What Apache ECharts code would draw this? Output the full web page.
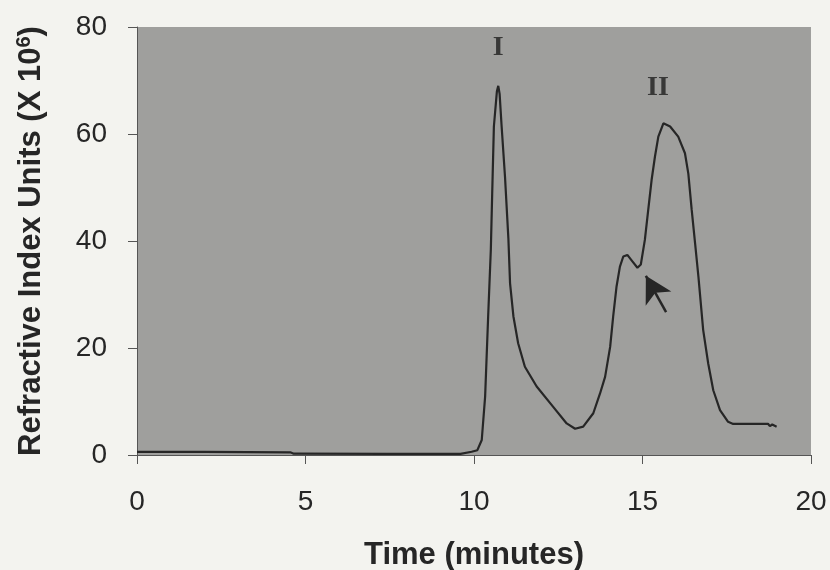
<!DOCTYPE html>
<html>
<head>
<meta charset="utf-8">
<script src="https://cdn.jsdelivr.net/npm/echarts@6/dist/echarts.min.js"></script>
<style>
  html, body { margin: 0; padding: 0; background: #f3f3ef; }
  #chart { width: 830px; height: 570px; }
</style>
</head>
<body>
<div id="chart"></div>
<script>
// chromatogram trace: [time (min), RI units x 10^6]
const timeMin = [
  0, 0.05, 0.15, 2.0, 4.55, 4.65, 7.4, 9.6, 9.93, 10.1, 10.23, 10.33, 10.42, 10.5,
  10.54, 10.59, 10.68, 10.72, 10.76, 10.82, 10.92, 11.02, 11.07, 11.17, 11.31, 11.51,
  11.86, 12.35, 12.75, 13.0, 13.05, 13.24, 13.54, 13.74, 13.89, 14.04, 14.13, 14.23,
  14.33, 14.43, 14.55, 14.7, 14.85, 14.95, 15.07, 15.17, 15.27, 15.37, 15.47, 15.62,
  15.82, 16.06, 16.26, 16.36, 16.46, 16.56, 16.66, 16.8, 16.95, 17.1, 17.3, 17.54,
  17.69, 18.2, 18.73, 18.78, 18.85, 18.98
]
const riUnits = [
  0.6, 0.9, 0.6, 0.6, 0.5, 0.25, 0.2, 0.2, 0.6, 0.9, 2.8, 10.9, 25.9, 38.5,
  48.9, 61.4, 68.0, 69.0, 67.5, 61.4, 52.0, 40.5, 32.1, 25.9, 20.9, 16.5,
  12.8, 9.0, 5.9, 4.9, 4.9, 5.3, 7.8, 11.5, 14.6, 20.2, 25.9, 31.5,
  35.2, 37.1, 37.4, 36.2, 35.0, 35.6, 40.2, 45.8, 51.4, 55.8, 59.5, 62.0,
  61.4, 59.5, 56.4, 52.6, 45.8, 39.6, 33.3, 23.4, 17.1, 12.1, 8.4, 6.2,
  5.8, 5.8, 5.8, 5.4, 5.7, 5.3
]

// peak names
const peakNames = ['I', 'II']
const peakPos = [[10.72, 76.1], [15.46, 68.6]]

// arrow marking the shoulder: tail -> tip
const arrowTail = [15.7, 26.7]
const arrowTip = [15.1, 33.5]

const xTicks = [0, 5, 10, 15, 20]
const yTicks = [0, 20, 40, 60, 80]

const font = "'Liberation Sans', Arial, sans-serif"
const ink = '#262626'

const chart = echarts.init(document.getElementById('chart'))

chart.setOption({
  animation: false,
  backgroundColor: '#f3f3ef',
  textStyle: { fontFamily: font },
  grid: {
    left: 137,
    right: 19,
    top: 27,
    bottom: 115,
    outerBoundsMode: 'none',
    show: true,
    backgroundColor: '#9f9f9d',
    borderWidth: 0,
  },
  xAxis: {
    type: 'value',
    min: xTicks[0],
    max: xTicks[xTicks.length - 1],
    interval: 5,
    name: 'Time (minutes)',
    nameLocation: 'middle',
    nameGap: 85,
    nameTextStyle: { color: ink, fontSize: 31, fontWeight: 'bold', fontFamily: font },
    axisLine: { show: true, lineStyle: { color: '#555', width: 1 } },
    axisTick: { show: true, length: 9, lineStyle: { color: '#555' } },
    axisLabel: { color: ink, fontSize: 28, margin: 33 },
    splitLine: { show: false },
  },
  yAxis: {
    type: 'value',
    min: yTicks[0],
    max: yTicks[yTicks.length - 1],
    interval: 20,
    name: 'Refractive Index Units (X 10{sup|6})',
    nameLocation: 'middle',
    nameGap: 89,
    nameRotate: 90,
    nameTextStyle: {
      color: ink,
      fontSize: 31,
      fontWeight: 'bold',
      fontFamily: font,
      rich: {
        sup: { fontSize: 20, fontWeight: 'bold', color: ink, fontFamily: font, padding: [0, 0, 14, 0] },
      },
    },
    axisLine: { show: true, lineStyle: { color: '#555', width: 1 } },
    axisTick: { show: true, length: 9, lineStyle: { color: '#555' } },
    axisLabel: { color: ink, fontSize: 28, margin: 30 },
    splitLine: { show: false },
  },
  series: [
    {
      name: 'RI',
      type: 'line',
      data: timeMin.map((t, i) => [t, riUnits[i]]),
      showSymbol: false,
      smooth: false,
      lineStyle: { color: '#262626', width: 2.2 },
      markLine: {
        silent: true,
        symbol: ['none', 'arrow'],
        symbolSize: [22, 26],
        label: { show: false },
        lineStyle: { color: '#262626', width: 2.5, type: 'solid' },
        data: [[{ coord: arrowTail }, { coord: arrowTip }]],
      },
    },
    {
      name: 'peaks',
      type: 'scatter',
      symbolSize: 0,
      data: peakPos.map((p, i) => ({ value: p, name: peakNames[i] })),
      label: {
        show: true,
        position: 'inside',
        formatter: (p) => p.name,
        color: '#1e1e1e',
        fontSize: 28,
        fontWeight: 'bold',
        fontFamily: "'Liberation Serif', 'Times New Roman', serif",
      },
    },
  ],
})
</script>
</body>
</html>
